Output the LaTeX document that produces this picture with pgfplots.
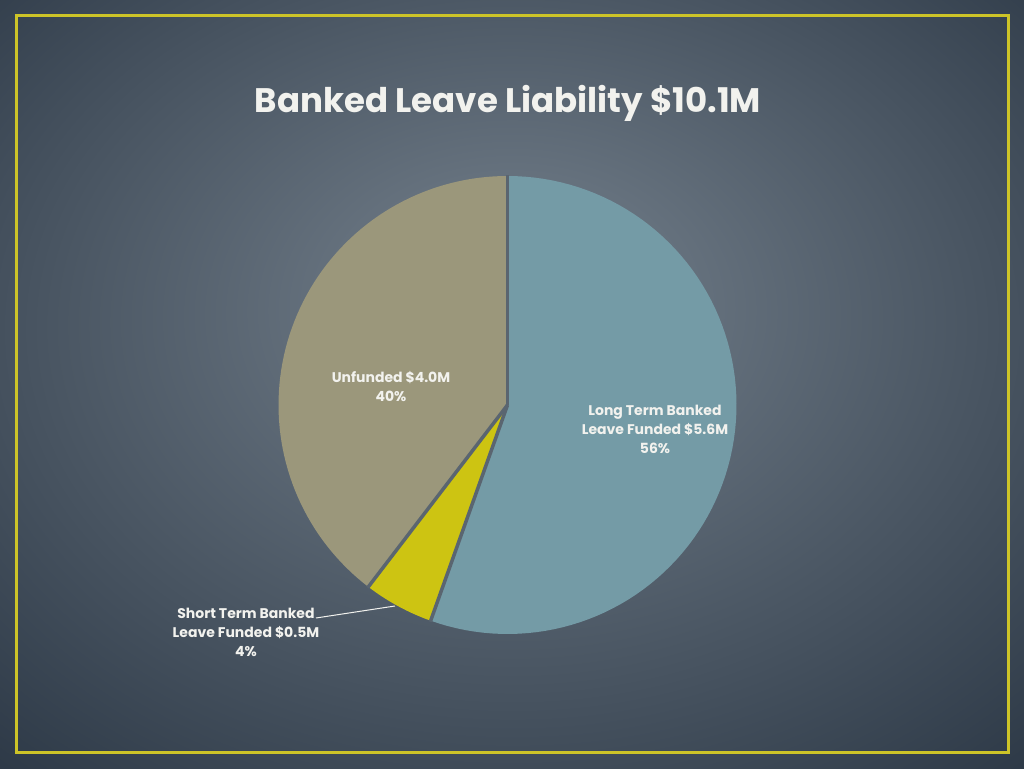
\documentclass[border=0pt]{standalone}
\usepackage{pgfplots}
\pgfplotsset{compat=1.18}
\usepackage{pgfplotstable}
\usepackage{fontspec}
\setmainfont{Poppins}

\definecolor{bgin}{RGB}{106,118,130}
\definecolor{bgout}{RGB}{36,48,62}
\definecolor{framec}{RGB}{205,196,40}
\definecolor{longc}{RGB}{116,155,166}
\definecolor{shortc}{RGB}{205,196,18}
\definecolor{unfc}{RGB}{155,151,123}
\definecolor{gapc}{RGB}{90,101,112}
\definecolor{txt}{RGB}{242,242,238}

\pgfdeclareradialshading{bgshade}{\pgfpoint{0bp}{6bp}}{%
  color(0bp)=(bgin); color(6bp)=(bgin); color(42bp)=(bgout); color(60bp)=(bgout)}

% slice values in $M, clockwise from 12 o'clock
\pgfplotstableread{
name     value
long     5.6
short    0.5
unfunded 4.0
}\slices

\begin{document}
\begin{tikzpicture}[x=1pt,y=1pt]
\useasboundingbox (0,0) rectangle (1024,768);
\shade[shading=bgshade] (0,0) rectangle (1024,768);
\draw[framec, line width=3pt] (16,15.5) rectangle (1008,752.5);

\pgfplotstablegetelem{0}{value}\of\slices \let\va\pgfplotsretval
\pgfplotstablegetelem{1}{value}\of\slices \let\vb\pgfplotsretval
\pgfplotstablegetelem{2}{value}\of\slices \let\vc\pgfplotsretval
\pgfmathsetmacro\tot{\va+\vb+\vc}
\pgfmathsetmacro\aA{90}
\pgfmathsetmacro\aB{90-360*\va/\tot}
\pgfmathsetmacro\aC{\aB-360*\vb/\tot}
\pgfmathsetmacro\aD{-270}

\node[txt, font=\bfseries\fontsize{34}{40}\selectfont] at (508,665) {Banked Leave Liability \$10.1M};

\begin{axis}[
    at={(507.5pt,363pt)}, anchor=center,
    scale only axis, width=460pt, height=460pt,
    xmin=-230, xmax=230, ymin=-230, ymax=230,
    hide axis, clip=false,
    every axis plot/.style={draw=none},
  ]
  \addplot[fill=longc, domain=\aB:\aA, samples=90, variable=\t]
    ({229*cos(\t)},{229*sin(\t)}) -- (axis cs:0,0) -- cycle;
  \addplot[fill=shortc, domain=\aC:\aB, samples=12, variable=\t]
    ({229*cos(\t)},{229*sin(\t)}) -- (axis cs:0,0) -- cycle;
  \addplot[fill=unfc, domain=\aD:\aC, samples=80, variable=\t]
    ({229*cos(\t)},{229*sin(\t)}) -- (axis cs:0,0) -- cycle;
  \draw[gapc, line width=3.5pt] (axis cs:0,0) -- (axis cs:{230*cos(\aA)},{230*sin(\aA)});
  \draw[gapc, line width=3.5pt] (axis cs:0,0) -- (axis cs:{230*cos(\aB)},{230*sin(\aB)});
  \draw[gapc, line width=3.5pt] (axis cs:0,0) -- (axis cs:{230*cos(\aC)},{230*sin(\aC)});
\end{axis}

\begin{scope}[every node/.style={txt, align=center,
    font=\bfseries\fontsize{14}{19}\selectfont}]
  \node at (391,381) {Unfunded \$4.0M\\40\%};
  \node at (655,339) {Long Term Banked\\Leave Funded \$5.6M\\56\%};
  \node at (246,136) {Short Term Banked\\Leave Funded \$0.5M\\4\%};
\end{scope}
\draw[txt, line width=1pt] (316,150) -- (395,162);
\end{tikzpicture}
\end{document}
